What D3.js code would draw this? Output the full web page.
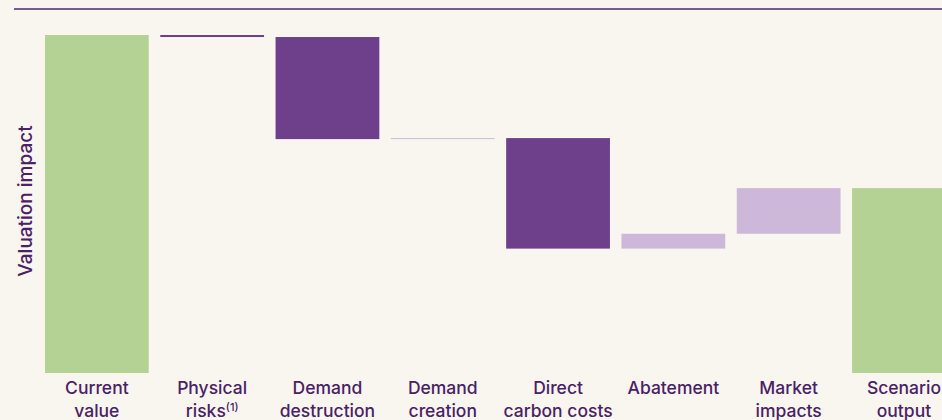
<!DOCTYPE html>
<html lang="en">
<head>
    <meta charset="UTF-8">
    <title>Valuation impact waterfall</title>
    <script src="https://d3js.org/d3.v7.min.js"></script>
    <style>
        body {
            margin: 0;
            background: #f9f6f0;
        }
        svg {
            display: block;
            font-family: Inter, "Open Sans", sans-serif;
        }
        .label {
            fill: #4a2166;
            font-size: 17.5px;
            font-weight: 500;
        }
    </style>
</head>
<body>
    <div id="chart"></div>

    <script>
        // Bar names, two text lines each
        const categories = ["Current value", "Physical risks", "Demand destruction", "Demand creation",
            "Direct carbon costs", "Abatement", "Market impacts", "Scenario output"];
        const labelLines = [["Current", "value"], ["Physical", "risks"], ["Demand", "destruction"],
            ["Demand", "creation"], ["Direct", "carbon costs"], ["Abatement"], ["Market", "impacts"],
            ["Scenario", "output"]];
        // "total" bars start at zero, the rest move from the previous level
        const barType = ["total", "delta", "delta", "delta", "delta", "delta", "delta", "total"];
        const values = [100, -0.6, -30.2, 0.3, -32.7, 4.4, 13.5, 54.7];

        const width = 942, height = 420;
        const margin = { top: 35, bottom: 47 };

        const svg = d3.select("#chart").append("svg")
            .attr("width", width)
            .attr("height", height);

        // rule across the top
        svg.append("rect")
            .attr("x", 14).attr("y", 8)
            .attr("width", width - 14).attr("height", 2)
            .attr("fill", "#7b5a8f");

        const x = d3.scaleBand()
            .domain(categories)
            .range([39.2, 961.6])
            .paddingInner(0.1)
            .paddingOuter(0.05);

        const y = d3.scaleLinear()
            .domain([0, 100])
            .range([height - margin.bottom, margin.top]);

        // running level for the waterfall
        let level = 0;
        const bars = categories.map((c, i) => {
            let start, end;
            if (barType[i] === "total") {
                start = 0; end = values[i];
            } else {
                start = level; end = level + values[i];
            }
            level = end;
            let color;
            if (barType[i] === "total") color = "#b5d295";
            else if (values[i] < 0) color = "#6e3f8a";
            else color = "#cdb8da";
            return { name: c, start: start, end: end, color: color };
        });

        svg.selectAll("rect.bar")
            .data(bars)
            .enter()
            .append("rect")
            .attr("class", "bar")
            .attr("x", d => x(d.name))
            .attr("y", d => y(Math.max(d.start, d.end)))
            .attr("width", x.bandwidth())
            .attr("height", d => Math.max(1, Math.abs(y(d.start) - y(d.end))))
            .attr("fill", d => d.color);

        // category labels
        const labels = svg.selectAll("text.label")
            .data(categories)
            .enter()
            .append("text")
            .attr("class", "label")
            .attr("text-anchor", "middle")
            .attr("x", d => x(d) + x.bandwidth() / 2)
            .attr("y", 394);

        labels.each(function(d, i) {
            const t = d3.select(this);
            labelLines[i].forEach((line, j) => {
                t.append("tspan")
                    .attr("x", x(d) + x.bandwidth() / 2)
                    .attr("dy", j === 0 ? 0 : 22.5)
                    .text(line);
            });
            if (d === "Physical risks") {
                t.append("tspan")
                    .attr("font-size", 11)
                    .attr("dy", -6)
                    .text("(1)");
            }
        });

        // y axis title
        svg.append("text")
            .attr("class", "label")
            .attr("transform", "translate(32," + 201 + ") rotate(-90)")
            .attr("text-anchor", "middle")
            .style("font-size", "19px")
            .text("Valuation impact");
    </script>
</body>
</html>
